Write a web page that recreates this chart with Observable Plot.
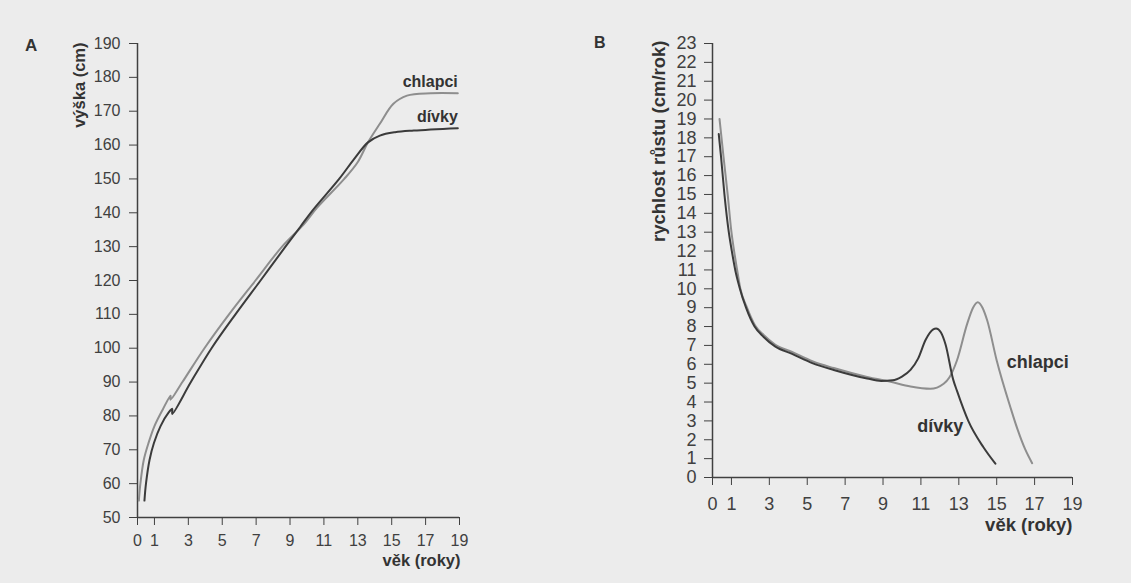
<!DOCTYPE html>
<html><head><meta charset="utf-8">
<script src="https://cdn.jsdelivr.net/npm/d3@7"></script>
<script src="https://cdn.jsdelivr.net/npm/@observablehq/plot@0.6"></script>
<style>
html,body{margin:0;padding:0;background:#ececec;width:1131px;height:583px;overflow:hidden}
#wrap{position:relative;width:1131px;height:583px;font-family:"Liberation Sans",Arial,sans-serif}
.panel{position:absolute;top:0}
.letter{position:absolute;font-weight:bold;color:#333}
</style></head><body><div id="wrap"></div>
<script>
// Shared tick labels
const ageTicks = [0, 1, 3, 5, 7, 9, 11, 13, 15, 17, 19];
const heightTicks = [50, 60, 70, 80, 90, 100, 110, 120, 130, 140, 150, 160, 170, 180, 190];
const velocityTicks = [0, 1, 2, 3, 4, 5, 6, 7, 8, 9, 10, 11, 12, 13, 14, 15, 16, 17, 18, 19, 20, 21, 22, 23];

// Panel A: height (cm) by age
const heightBoysAge = [0.08, 0.17, 0.37, 0.65, 1.0, 1.5, 1.95, 1.95, 2.65, 3.95, 5.4, 6.96, 8.53, 9.8, 10.6, 12.2, 13.0, 13.6, 14.3, 15.1, 15.9, 17.3, 18.9];
const heightBoysCm  = [55, 60, 67, 72, 77, 82, 86, 84.8, 90, 100, 110, 120, 130, 136.5, 141.5, 150, 155, 160.8, 166.3, 172.2, 174.6, 175.3, 175.3];
const heightGirlsAge = [0.41, 0.5, 0.71, 0.97, 1.36, 1.85, 2.05, 2.05, 3.15, 4.37, 5.78, 7.26, 8.73, 9.6, 10.3, 11.9, 12.8, 13.6, 14.3, 15.2, 16.3, 18.9];
const heightGirlsCm  = [55, 60, 67, 72, 77, 81.1, 82.1, 80.6, 90, 100, 110, 120, 130, 135.8, 140.5, 150, 156, 160.8, 162.8, 163.8, 164.3, 165];

// Panel B: growth velocity (cm/year) by age
const velBoysAge = [0.37, 0.58, 0.8, 1.0, 1.14, 1.3, 1.47, 1.8, 2.25, 2.7, 3.3, 4.2, 5.3, 6.4, 8.16, 9.4, 10.45, 11.5, 12.2, 12.5, 12.9, 13.44, 13.75, 14.0, 14.25, 14.5, 15.0, 15.73, 16.1, 16.5, 16.87];
const velBoysVal = [19, 17, 15, 13, 12, 11, 10, 9.05, 8.05, 7.55, 7.05, 6.65, 6.15, 5.8, 5.33, 5.07, 4.82, 4.7, 4.97, 5.3, 6.2, 8.14, 9.0, 9.29, 9.0, 8.32, 6.2, 3.7, 2.55, 1.5, 0.76];
const velGirlsAge = [0.33, 0.45, 0.63, 0.86, 1.02, 1.2, 1.42, 1.77, 2.22, 2.7, 3.3, 4.2, 5.3, 6.4, 8.16, 8.9, 9.5, 10.0, 10.45, 10.85, 11.25, 11.65, 11.8, 12.05, 12.3, 12.7, 12.9, 13.5, 14.3, 14.93];
const velGirlsVal = [18.2, 17, 15, 13, 12, 11, 10.1, 9, 8, 7.45, 6.95, 6.55, 6.05, 5.7, 5.25, 5.12, 5.15, 5.35, 5.7, 6.3, 7.3, 7.85, 7.9, 7.7, 7.05, 5.2, 4.6, 3.0, 1.6, 0.73];

const toRows = (a, v) => a.map((age, i) => ({age, v: v[i]}));
const hBoys = toRows(heightBoysAge, heightBoysCm);
const hGirls = toRows(heightGirlsAge, heightGirlsCm);
const vBoys = toRows(velBoysAge, velBoysVal);
const vGirls = toRows(velGirlsAge, velGirlsVal);

const FONT = '"Liberation Sans", Arial, sans-serif';
const DARK = "#3b3b3b", LIGHT = "#8e8e8e", AXIS = "#404040";
const wrap = document.getElementById("wrap");

// ---------- Panel A ----------
const chartA = Plot.plot({
  width: 565, height: 583,
  marginLeft: 137, marginRight: 106, marginTop: 43, marginBottom: 66,
  style: {background: "transparent", fontFamily: FONT, fontSize: "16px", color: AXIS},
  x: {domain: [0, 19], ticks: ageTicks, tickSize: 8, tickPadding: 9, label: null},
  y: {domain: [50, 190], ticks: heightTicks, tickSize: 8, tickPadding: 9, label: null},
  marks: [
    Plot.ruleX([0], {stroke: AXIS, strokeWidth: 1.5}),
    Plot.ruleY([50], {stroke: AXIS, strokeWidth: 1.5}),
    Plot.line(hBoys, {x: "age", y: "v", stroke: LIGHT, strokeWidth: 2, curve: "catmull-rom"}),
    Plot.line(hGirls, {x: "age", y: "v", stroke: DARK, strokeWidth: 2, curve: "catmull-rom"}),
    Plot.text(hBoys.slice(-1), {x: "age", y: "v", text: () => "chlapci", textAnchor: "end", dy: -11, fontWeight: "bold", fontSize: 16, fill: "#333"}),
    Plot.text(hGirls.slice(-1), {x: "age", y: "v", text: () => "dívky", textAnchor: "end", dy: -11, fontWeight: "bold", fontSize: 16, fill: "#333"}),
    Plot.text(["výška (cm)"], {frameAnchor: "top-left", rotate: -90, textAnchor: "end", dx: -64, dy: -1, fontWeight: "bold", fontSize: 16.5, fill: "#333"}),
    Plot.text(["věk (roky)"], {frameAnchor: "bottom-right", textAnchor: "end", dx: 1, dy: 48, fontWeight: "bold", fontSize: 16.5, fill: "#333"})
  ]
});
chartA.classList.add("panel");
chartA.style.left = "0px";
chartA.style.overflow = "visible";
wrap.appendChild(chartA);

// ---------- Panel B ----------
const chartB = Plot.plot({
  width: 566, height: 583,
  marginLeft: 147, marginRight: 59, marginTop: 43, marginBottom: 106,
  style: {background: "transparent", fontFamily: FONT, fontSize: "18px", color: AXIS},
  x: {domain: [0, 19], ticks: ageTicks, tickSize: 8, tickPadding: 12, label: null},
  y: {domain: [0, 23], ticks: velocityTicks, tickSize: 8, tickPadding: 8, label: null},
  marks: [
    Plot.ruleX([0], {stroke: AXIS, strokeWidth: 1.5}),
    Plot.ruleY([0], {stroke: AXIS, strokeWidth: 1.5}),
    Plot.line(vBoys, {x: "age", y: "v", stroke: LIGHT, strokeWidth: 2, curve: "monotone-x"}),
    Plot.line(vGirls, {x: "age", y: "v", stroke: DARK, strokeWidth: 2, curve: "monotone-x"}),
    Plot.text(vBoys.filter(d => d.age === 15.0), {x: "age", y: "v", text: () => "chlapci", textAnchor: "start", dx: 10, dy: 2, fontWeight: "bold", fontSize: 18, fill: "#333"}),
    Plot.text(vGirls.filter(d => d.age === 13.5), {x: "age", y: "v", text: () => "dívky", textAnchor: "end", dx: -5, dy: 5, fontWeight: "bold", fontSize: 18, fill: "#333"}),
    Plot.text(["rychlost růstu (cm/rok)"], {frameAnchor: "top-left", rotate: -90, textAnchor: "end", dx: -61, dy: -3, fontWeight: "bold", fontSize: 18.5, fill: "#333"}),
    Plot.text(["věk (roky)"], {frameAnchor: "bottom-right", textAnchor: "end", dx: 0, dy: 53, fontWeight: "bold", fontSize: 18.5, fill: "#333"})
  ]
});
chartB.classList.add("panel");
chartB.style.left = "565px";
chartB.style.overflow = "visible";
wrap.appendChild(chartB);

// Panel letters
for (const [t, l, top, s] of [["A", 25, 36, 17], ["B", 594, 34, 16]]) {
  const d = document.createElement("div");
  d.className = "letter";
  d.textContent = t;
  d.style.left = l + "px";
  d.style.top = top + "px";
  d.style.fontSize = s + "px";
  wrap.appendChild(d);
}
</script></body></html>
